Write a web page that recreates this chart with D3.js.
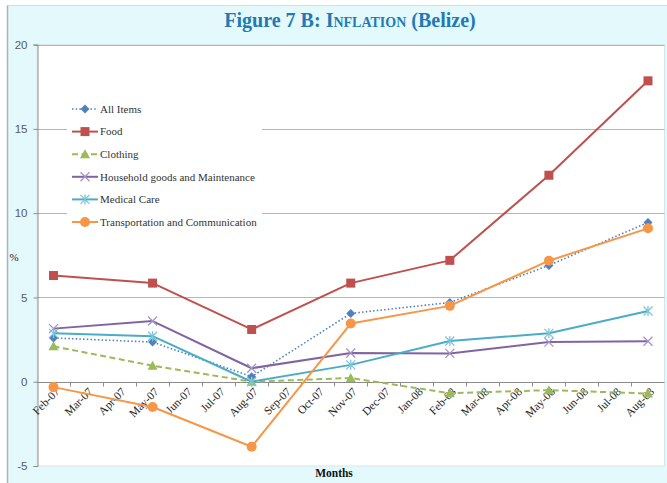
<!DOCTYPE html>
<html>
<head>
<meta charset="utf-8">
<script src="https://cdn.jsdelivr.net/npm/d3@7"></script>
<style>
  html, body { margin: 0; padding: 0; background: #ffffff; }
  svg { display: block; }
</style>
</head>
<body>
<svg id="chart" width="667" height="483"></svg>
<script>
// Month categories on the x axis
const months = ["Feb-07","Mar-07","Apr-07","May-07","Jun-07","Jul-07","Aug-07","Sep-07","Oct-07",
                "Nov-07","Dec-07","Jan-08","Feb-08","Mar-08","Apr-08","May-08","Jun-08","Jul-08","Aug-08"];
// Quarterly observation months
const observed = ["Feb-07","May-07","Aug-07","Nov-07","Feb-08","May-08","Aug-08"];

// Inflation rates (%) per series
const allItems   = [2.6, 2.35, 0.3, 4.05, 4.7, 6.9, 9.45];
const food       = [6.3, 5.85, 3.1, 5.85, 7.2, 12.25, 17.85];
const clothing   = [2.1, 0.95, 0.0, 0.22, -0.68, -0.5, -0.7];
const household  = [3.15, 3.6, 0.8, 1.7, 1.68, 2.35, 2.4];
const medical    = [2.87, 2.7, 0.0, 1.0, 2.42, 2.87, 4.2];
const transport  = [-0.32, -1.5, -3.86, 3.45, 4.5, 7.18, 9.1];

const yTicks = [-5, 0, 5, 10, 15, 20];

const series = [
  { name: "All Items", values: allItems, color: "#4F81BD", width: 1.6, dash: "1.5,2.2", marker: "diamond" },
  { name: "Food", values: food, color: "#C0504D", width: 2, dash: null, marker: "square" },
  { name: "Clothing", values: clothing, color: "#9BBB59", width: 2, dash: "6,3.5", marker: "triangle" },
  { name: "Household goods and Maintenance", values: household, color: "#8064A2", width: 2, dash: null, marker: "x" },
  { name: "Medical Care", values: medical, color: "#4BACC6", width: 2, dash: null, marker: "star" },
  { name: "Transportation and Communication", values: transport, color: "#F79646", width: 2, dash: null, marker: "circle" }
];

const svg = d3.select("#chart");
const W = 667, H = 483;

// Outer frame: cyan panel with a grey edge on the top and left
svg.append("rect").attr("x", 7).attr("y", 5).attr("width", W - 7).attr("height", H - 5)
  .attr("fill", "#e4f9fc");
svg.append("line").attr("x1", 7.5).attr("x2", 7.5).attr("y1", 5).attr("y2", H)
  .attr("stroke", "#a9b4b6").attr("stroke-width", 1.5);
svg.append("line").attr("x1", 7).attr("x2", W).attr("y1", 5.5).attr("y2", 5.5)
  .attr("stroke", "#d3dcde").attr("stroke-width", 1);

// Title
const title = svg.append("text")
  .attr("x", 350).attr("y", 27)
  .attr("text-anchor", "middle")
  .attr("font-family", "'Liberation Serif', 'DejaVu Serif', serif")
  .attr("font-weight", "bold")
  .attr("font-size", 20)
  .attr("fill", "#2279b4");
title.append("tspan").text("Figure 7 B: ");
title.append("tspan").style("font-variant", "small-caps").text("Inflation");
title.append("tspan").text(" (Belize)");

// Plot area
const plotL = 37, plotR = 664.5, plotT = 44.6, plotB = 466;
const x = d3.scaleBand().domain(months).range([plotL, plotR]);
const y = d3.scaleLinear().domain([-5, 20]).range([plotB, plotT]);
const cx = m => x(m) + x.bandwidth() / 2;

svg.append("rect").attr("x", plotL).attr("y", plotT).attr("width", plotR - plotL).attr("height", plotB - plotT)
  .attr("fill", "#ffffff").attr("stroke", "#d6e6ea").attr("stroke-width", 1);

// Horizontal gridlines
svg.append("g").selectAll("line")
  .data(yTicks.filter(t => t > 0))
  .join("line")
  .attr("x1", plotL).attr("x2", plotR)
  .attr("y1", d => Math.round(y(d)) + 0.5).attr("y2", d => Math.round(y(d)) + 0.5)
  .attr("stroke", "#b5b5b5").attr("stroke-width", 1);

// Legend backdrop (hides the gridlines behind it)
svg.append("rect").attr("x", 67).attr("y", 96).attr("width", 195).attr("height", 140)
  .attr("fill", "#ffffff");

// Y axis
const yAxis = d3.axisLeft(y).tickValues(yTicks).tickSize(4).tickPadding(6)
  .tickFormat(d => String(d));
const gy = svg.append("g").attr("transform", `translate(${plotL + 0.5},0)`).call(yAxis);
gy.select(".domain").attr("stroke", "#8c8c8c");
gy.selectAll(".tick line").attr("stroke", "#8c8c8c");
gy.selectAll(".tick text")
  .attr("font-family", "'Liberation Sans', Arial, sans-serif")
  .attr("font-size", 11.5).attr("fill", "#595959");

// X axis along zero, ticks between the month categories
const zeroY = Math.round(y(0)) + 0.5;
svg.append("line").attr("x1", plotL).attr("x2", plotR).attr("y1", zeroY).attr("y2", zeroY)
  .attr("stroke", "#8c8c8c").attr("stroke-width", 1);
svg.append("g").selectAll("line")
  .data(months.slice(1))
  .join("line")
  .attr("x1", d => Math.round(x(d)) + 0.5).attr("x2", d => Math.round(x(d)) + 0.5)
  .attr("y1", zeroY).attr("y2", zeroY + 4)
  .attr("stroke", "#8c8c8c");

svg.append("g").selectAll("text")
  .data(months)
  .join("text")
  .attr("transform", d => `translate(${cx(d) + 4},${zeroY + 7}) rotate(-45)`)
  .attr("text-anchor", "end")
  .attr("dy", "0.35em")
  .attr("font-family", "'Liberation Serif', 'DejaVu Serif', serif")
  .attr("font-size", 11.5)
  .attr("fill", "#222222")
  .text(d => d);

// Axis titles
svg.append("text").attr("x", 14).attr("y", 261)
  .attr("text-anchor", "middle")
  .attr("font-family", "'Liberation Serif', serif").attr("font-size", 11).attr("fill", "#222")
  .text("%");
svg.append("text").attr("x", 334).attr("y", 477)
  .attr("text-anchor", "middle")
  .attr("font-family", "'Liberation Serif', serif").attr("font-size", 11.5)
  .attr("font-weight", "bold").attr("fill", "#111")
  .text("Months");

// Marker drawing
function drawMarker(g, type, color, px, py) {
  if (type === "diamond") {
    g.append("path").attr("d", `M${px},${py - 4.5}L${px + 4.5},${py}L${px},${py + 4.5}L${px - 4.5},${py}Z`)
      .attr("fill", color);
  } else if (type === "square") {
    g.append("rect").attr("x", px - 4.5).attr("y", py - 4.5).attr("width", 9).attr("height", 9)
      .attr("fill", color);
  } else if (type === "triangle") {
    g.append("path").attr("d", `M${px},${py - 5}L${px + 5},${py + 4}L${px - 5},${py + 4}Z`)
      .attr("fill", color);
  } else if (type === "x") {
    g.append("path").attr("d", `M${px - 4.5},${py - 4.5}L${px + 4.5},${py + 4.5}M${px - 4.5},${py + 4.5}L${px + 4.5},${py - 4.5}`)
      .attr("stroke", "#a893c4").attr("stroke-width", 1.3).attr("fill", "none");
  } else if (type === "star") {
    g.append("path").attr("d", `M${px - 4.5},${py - 4.5}L${px + 4.5},${py + 4.5}M${px - 4.5},${py + 4.5}L${px + 4.5},${py - 4.5}M${px},${py - 5}L${px},${py + 5}`)
      .attr("stroke", "#7cc6da").attr("stroke-width", 1.3).attr("fill", "none");
  } else if (type === "circle") {
    g.append("circle").attr("cx", px).attr("cy", py).attr("r", 5).attr("fill", color);
  }
}

const line = d3.line().x(d => cx(d.m)).y(d => y(d.v));

series.forEach(s => {
  const pts = observed.map((m, i) => ({ m, v: s.values[i] }));
  const g = svg.append("g");
  g.append("path").datum(pts)
    .attr("d", line)
    .attr("fill", "none")
    .attr("stroke", s.color)
    .attr("stroke-width", s.width)
    .attr("stroke-linejoin", "round")
    .attr("stroke-dasharray", s.dash);
  pts.forEach(p => drawMarker(g, s.marker, s.color, cx(p.m), y(p.v)));
});

// Legend
const legend = svg.append("g");
series.forEach((s, i) => {
  const ly = 109 + i * 22.6;
  legend.append("line").attr("x1", 72).attr("x2", 98).attr("y1", ly).attr("y2", ly)
    .attr("stroke", s.color).attr("stroke-width", s.width)
    .attr("stroke-dasharray", s.dash);
  drawMarker(legend, s.marker, s.color, 85, ly);
  legend.append("text").attr("x", 100).attr("y", ly).attr("dy", "0.35em")
    .attr("font-family", "'Liberation Serif', 'DejaVu Serif', serif")
    .attr("font-size", 11).attr("fill", "#333333")
    .text(s.name);
});
</script>
</body>
</html>
